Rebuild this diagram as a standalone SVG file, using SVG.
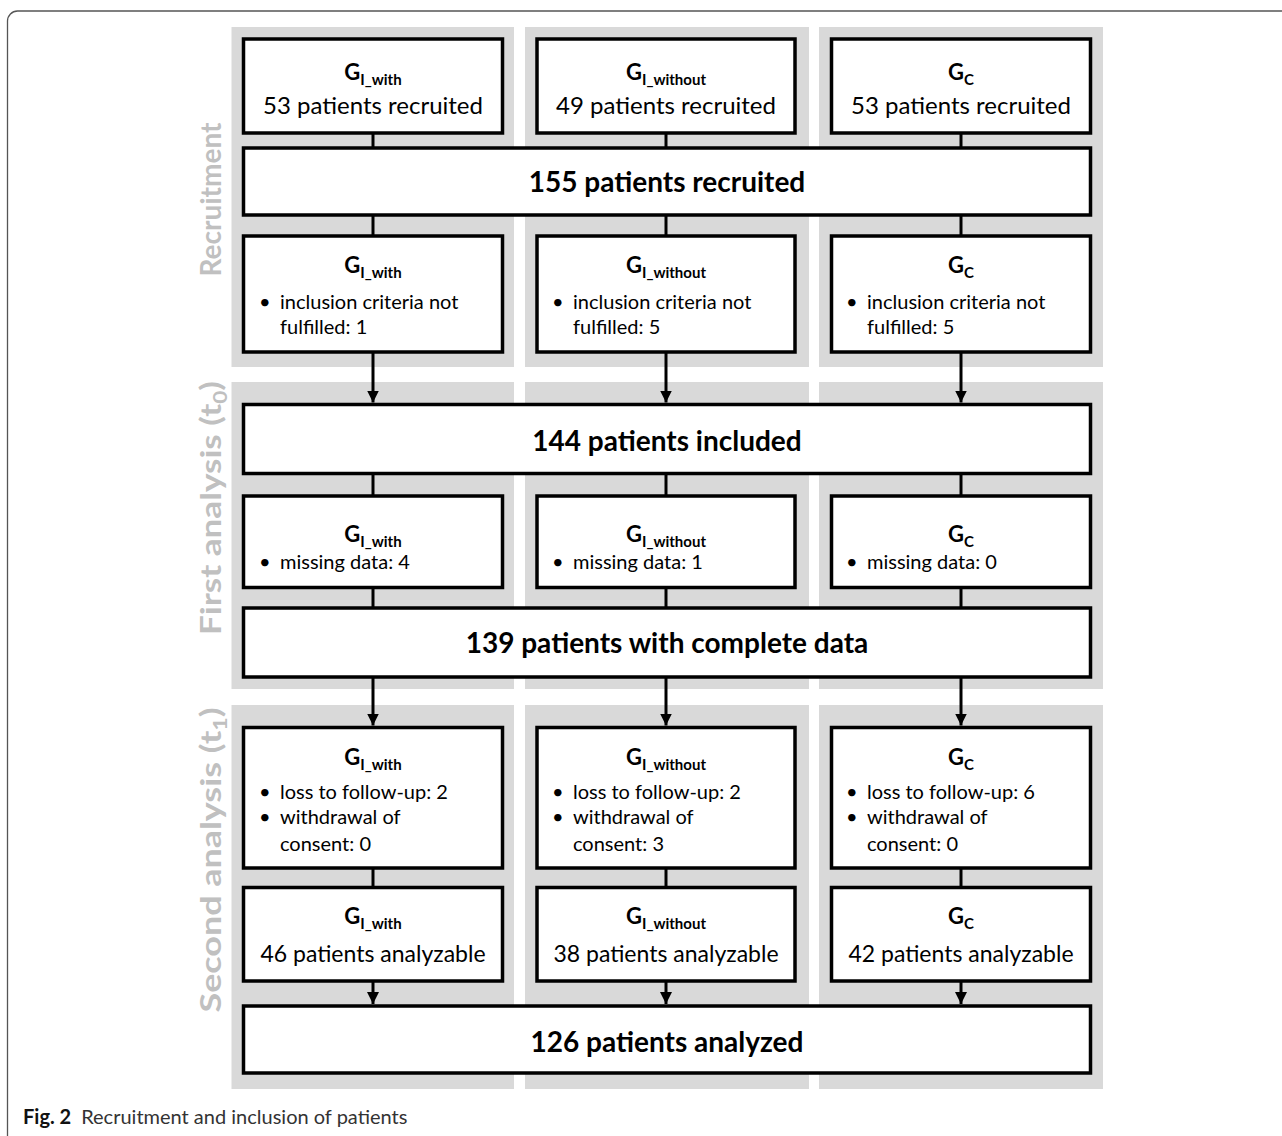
<svg xmlns="http://www.w3.org/2000/svg" width="1282" height="1136" viewBox="0 0 1282 1136">
<style>
  .bg{fill:#d9d9d9}
  .box{fill:#fff;stroke:#000;stroke-width:3.5}
  .ln{stroke:#000;stroke-width:3;fill:none}
  text{font-family:Lato,"Liberation Sans",sans-serif;fill:#000}
  .ttl{font-size:22px;font-weight:bold;text-anchor:middle}
  .sub{font-size:15px}
  .big{font-size:24px;text-anchor:middle}
  .big2{font-size:23px;text-anchor:middle}
  .wide{font-size:28px;font-weight:bold;text-anchor:middle}
  .bul{font-size:20px}
  .lab{font-size:28px;font-weight:bold;fill:#c0c0c0;text-anchor:middle}
  .cap{font-size:20px;fill:#333}
</style>
<defs>
  <marker id="ah" markerUnits="userSpaceOnUse" markerWidth="12" markerHeight="12" viewBox="0 0 12 12" refX="12" refY="6" orient="auto">
    <path d="M0,0 L12,6 L0,12 Z" fill="#000"/>
  </marker>
</defs>
<rect width="1282" height="1136" fill="#fff"/>
<path d="M7.5,1136 V21 A10,10 0 0 1 17.5,11 H1282" fill="none" stroke="#555" stroke-width="1.3"/>

<g id="panels">
  <rect class="bg" x="231.5" y="27" width="282.5" height="340"/>
  <rect class="bg" x="525" y="27" width="284" height="340"/>
  <rect class="bg" x="819" y="27" width="284" height="340"/>
  <rect class="bg" x="231.5" y="382" width="282.5" height="307"/>
  <rect class="bg" x="525" y="382" width="284" height="307"/>
  <rect class="bg" x="819" y="382" width="284" height="307"/>
  <rect class="bg" x="231.5" y="705" width="282.5" height="384"/>
  <rect class="bg" x="525" y="705" width="284" height="384"/>
  <rect class="bg" x="819" y="705" width="284" height="384"/>
</g>

<g id="phase-labels">
  <text class="lab" transform="translate(221,199.5) rotate(-90)" textLength="154" lengthAdjust="spacingAndGlyphs">Recruitment</text>
  <text class="lab" transform="translate(221,508) rotate(-90)" textLength="254" lengthAdjust="spacingAndGlyphs">First analysis (t<tspan font-size="18" dy="6">0</tspan><tspan dy="-6">)</tspan></text>
  <text class="lab" transform="translate(221,860) rotate(-90)" textLength="305" lengthAdjust="spacingAndGlyphs">Second analysis (t<tspan font-size="18" dy="6">1</tspan><tspan dy="-6">)</tspan></text>
</g>

<g id="connectors">
  <line class="ln" x1="373" y1="133" x2="373" y2="148"/>
  <line class="ln" x1="666" y1="133" x2="666" y2="148"/>
  <line class="ln" x1="961" y1="133" x2="961" y2="148"/>
  <line class="ln" x1="373" y1="215" x2="373" y2="236"/>
  <line class="ln" x1="666" y1="215" x2="666" y2="236"/>
  <line class="ln" x1="961" y1="215" x2="961" y2="236"/>
  <line class="ln" x1="373" y1="352" x2="373" y2="402.5" marker-end="url(#ah)"/>
  <line class="ln" x1="666" y1="352" x2="666" y2="402.5" marker-end="url(#ah)"/>
  <line class="ln" x1="961" y1="352" x2="961" y2="402.5" marker-end="url(#ah)"/>
  <line class="ln" x1="373" y1="473.5" x2="373" y2="496"/>
  <line class="ln" x1="666" y1="473.5" x2="666" y2="496"/>
  <line class="ln" x1="961" y1="473.5" x2="961" y2="496"/>
  <line class="ln" x1="373" y1="587.5" x2="373" y2="608"/>
  <line class="ln" x1="666" y1="587.5" x2="666" y2="608"/>
  <line class="ln" x1="961" y1="587.5" x2="961" y2="608"/>
  <line class="ln" x1="373" y1="677" x2="373" y2="725.5" marker-end="url(#ah)"/>
  <line class="ln" x1="666" y1="677" x2="666" y2="725.5" marker-end="url(#ah)"/>
  <line class="ln" x1="961" y1="677" x2="961" y2="725.5" marker-end="url(#ah)"/>
  <line class="ln" x1="373" y1="868" x2="373" y2="887.5"/>
  <line class="ln" x1="666" y1="868" x2="666" y2="887.5"/>
  <line class="ln" x1="961" y1="868" x2="961" y2="887.5"/>
  <line class="ln" x1="373" y1="981" x2="373" y2="1004" marker-end="url(#ah)"/>
  <line class="ln" x1="666" y1="981" x2="666" y2="1004" marker-end="url(#ah)"/>
  <line class="ln" x1="961" y1="981" x2="961" y2="1004" marker-end="url(#ah)"/>
</g>

<g id="rec-with">
  <rect class="box" x="243.5" y="39" width="259" height="94"/>
  <text class="ttl" x="373" y="80">G<tspan class="sub" dy="5">I_with</tspan></text>
  <text class="big" x="373" y="114">53 patients recruited</text>
</g>
<g id="rec-without">
  <rect class="box" x="537" y="39" width="258" height="94"/>
  <text class="ttl" x="666" y="80">G<tspan class="sub" dy="5">I_without</tspan></text>
  <text class="big" x="666" y="114">49 patients recruited</text>
</g>
<g id="rec-c">
  <rect class="box" x="831.5" y="39" width="259" height="94"/>
  <text class="ttl" x="961" y="80">G<tspan class="sub" dy="5">C</tspan></text>
  <text class="big" x="961" y="114">53 patients recruited</text>
</g>

<g id="total-recruited">
  <rect class="box" x="243.5" y="148" width="847" height="67"/>
  <text class="wide" x="667" y="192">155 patients recruited</text>
</g>

<g id="excl-with">
  <rect class="box" x="243.5" y="236" width="259" height="116"/>
  <text class="ttl" x="373" y="273">G<tspan class="sub" dy="5">I_with</tspan></text>
  <text class="bul" x="259" y="309">•</text>
  <text class="bul" x="280" y="309">inclusion criteria not</text>
  <text class="bul" x="280" y="334">fulfilled: 1</text>
</g>
<g id="excl-without">
  <rect class="box" x="537" y="236" width="258" height="116"/>
  <text class="ttl" x="666" y="273">G<tspan class="sub" dy="5">I_without</tspan></text>
  <text class="bul" x="552" y="309">•</text>
  <text class="bul" x="573" y="309">inclusion criteria not</text>
  <text class="bul" x="573" y="334">fulfilled: 5</text>
</g>
<g id="excl-c">
  <rect class="box" x="831.5" y="236" width="259" height="116"/>
  <text class="ttl" x="961" y="273">G<tspan class="sub" dy="5">C</tspan></text>
  <text class="bul" x="846" y="309">•</text>
  <text class="bul" x="867" y="309">inclusion criteria not</text>
  <text class="bul" x="867" y="334">fulfilled: 5</text>
</g>

<g id="included">
  <rect class="box" x="243.5" y="404.5" width="847" height="69"/>
  <text class="wide" x="667" y="451">144 patients included</text>
</g>

<g id="missing-with">
  <rect class="box" x="243.5" y="496" width="259" height="91.5"/>
  <text class="ttl" x="373" y="542">G<tspan class="sub" dy="5">I_with</tspan></text>
  <text class="bul" x="259" y="569">•</text>
  <text class="bul" x="280" y="569">missing data: 4</text>
</g>
<g id="missing-without">
  <rect class="box" x="537" y="496" width="258" height="91.5"/>
  <text class="ttl" x="666" y="542">G<tspan class="sub" dy="5">I_without</tspan></text>
  <text class="bul" x="552" y="569">•</text>
  <text class="bul" x="573" y="569">missing data: 1</text>
</g>
<g id="missing-c">
  <rect class="box" x="831.5" y="496" width="259" height="91.5"/>
  <text class="ttl" x="961" y="542">G<tspan class="sub" dy="5">C</tspan></text>
  <text class="bul" x="846" y="569">•</text>
  <text class="bul" x="867" y="569">missing data: 0</text>
</g>

<g id="complete">
  <rect class="box" x="243.5" y="608" width="847" height="69"/>
  <text class="wide" x="667" y="653">139 patients with complete data</text>
</g>

<g id="loss-with">
  <rect class="box" x="243.5" y="727.5" width="259" height="140.5"/>
  <text class="ttl" x="373" y="765">G<tspan class="sub" dy="5">I_with</tspan></text>
  <text class="bul" x="259" y="799">•</text>
  <text class="bul" x="280" y="799">loss to follow-up: 2</text>
  <text class="bul" x="259" y="824">•</text>
  <text class="bul" x="280" y="824">withdrawal of</text>
  <text class="bul" x="280" y="851">consent: 0</text>
</g>
<g id="loss-without">
  <rect class="box" x="537" y="727.5" width="258" height="140.5"/>
  <text class="ttl" x="666" y="765">G<tspan class="sub" dy="5">I_without</tspan></text>
  <text class="bul" x="552" y="799">•</text>
  <text class="bul" x="573" y="799">loss to follow-up: 2</text>
  <text class="bul" x="552" y="824">•</text>
  <text class="bul" x="573" y="824">withdrawal of</text>
  <text class="bul" x="573" y="851">consent: 3</text>
</g>
<g id="loss-c">
  <rect class="box" x="831.5" y="727.5" width="259" height="140.5"/>
  <text class="ttl" x="961" y="765">G<tspan class="sub" dy="5">C</tspan></text>
  <text class="bul" x="846" y="799">•</text>
  <text class="bul" x="867" y="799">loss to follow-up: 6</text>
  <text class="bul" x="846" y="824">•</text>
  <text class="bul" x="867" y="824">withdrawal of</text>
  <text class="bul" x="867" y="851">consent: 0</text>
</g>

<g id="analyzable-with">
  <rect class="box" x="243.5" y="887.5" width="259" height="93.5"/>
  <text class="ttl" x="373" y="924">G<tspan class="sub" dy="5">I_with</tspan></text>
  <text class="big2" x="373" y="962">46 patients analyzable</text>
</g>
<g id="analyzable-without">
  <rect class="box" x="537" y="887.5" width="258" height="93.5"/>
  <text class="ttl" x="666" y="924">G<tspan class="sub" dy="5">I_without</tspan></text>
  <text class="big2" x="666" y="962">38 patients analyzable</text>
</g>
<g id="analyzable-c">
  <rect class="box" x="831.5" y="887.5" width="259" height="93.5"/>
  <text class="ttl" x="961" y="924">G<tspan class="sub" dy="5">C</tspan></text>
  <text class="big2" x="961" y="962">42 patients analyzable</text>
</g>

<g id="analyzed">
  <rect class="box" x="243.5" y="1006" width="847" height="67"/>
  <text class="wide" x="667" y="1052">126 patients analyzed</text>
</g>

<text class="cap" x="23" y="1124"><tspan font-weight="bold" fill="#111">Fig. 2</tspan><tspan dx="10">Recruitment and inclusion of patients</tspan></text>
</svg>
